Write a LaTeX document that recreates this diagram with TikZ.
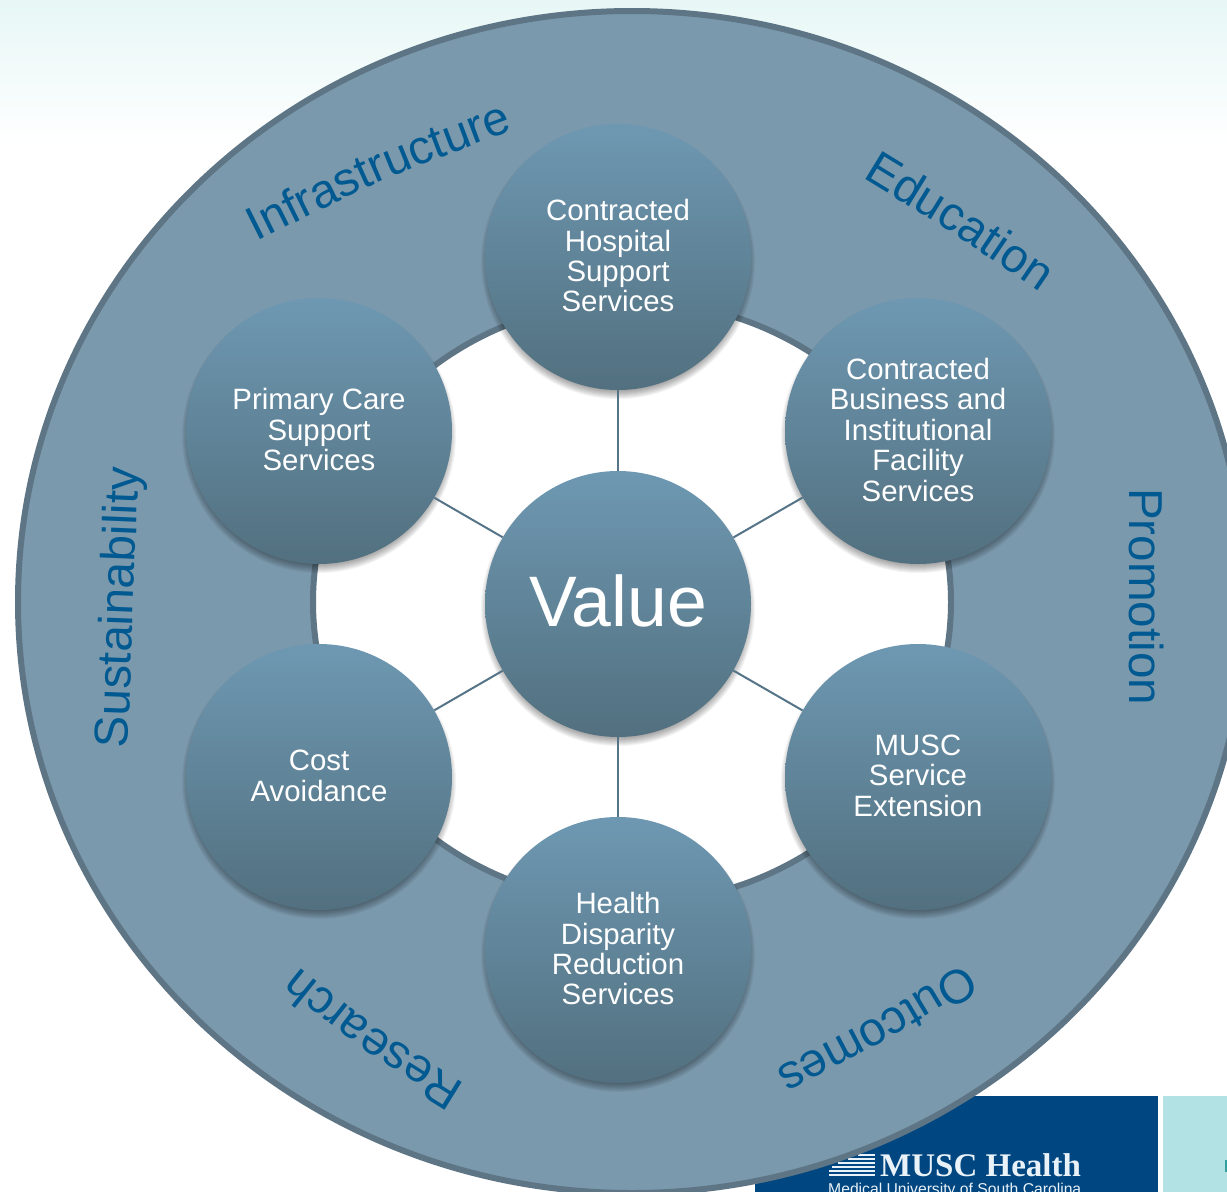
\documentclass[tikz,border=0pt]{standalone}
\usepackage{fontspec}
\setmainfont{Liberation Sans}
\newfontfamily\serifname{Liberation Serif}
\usetikzlibrary{decorations.text}
\definecolor{ringfill}{HTML}{7B99AD}
\definecolor{ringline}{HTML}{5E7585}
\definecolor{bubtop}{HTML}{6E98B2}
\definecolor{bubbot}{HTML}{52707F}
\definecolor{spoke}{HTML}{567488}
\definecolor{lab}{HTML}{005A91}
\definecolor{navy}{HTML}{004680}
\definecolor{paleteal}{HTML}{B2E2E4}
\definecolor{bgtop}{HTML}{E0F5F3}
\definecolor{logotext}{HTML}{E8F2F8}
\newcommand{\labfont}{\fontsize{47.6}{47.6}\selectfont}
\tikzset{
  x=1pt,y=-1pt,
  bub/.style={circle,minimum size=266pt,inner sep=0pt,top color=bubtop,bottom color=bubbot,
    text=white,align=center,font=\fontsize{29.4}{30.4}\selectfont,
    execute at end node={\rule[-2.6pt]{0pt}{2.6pt}}},
  bigbub/.style={bub,font=\fontsize{71.5}{71.5}\selectfont,
    execute at end node={\rule[-6pt]{0pt}{6pt}}},
  softshadow/.style={fill=black,fill opacity=0.045,draw=none},
  spokeline/.style={draw=spoke,line width=2pt},
  curved/.style={postaction={decorate,decoration={text along path,text align={center},
    text={|\labfont\color{lab}|#1}}}}
}
\begin{document}
\begin{tikzpicture}
\useasboundingbox (0,0) rectangle (1227,1192);
\clip (0,0) rectangle (1227,1192);
\fill[white] (0,0) rectangle (1227,1192);
\shade[top color=bgtop,bottom color=white,shading angle=0] (0,-40) rectangle (1227,145);
% logo
\fill[navy] (755,1096) rectangle (1158,1192);
\fill[paleteal] (1163,1096) rectangle (1227,1192);
\fill[teal!70!paleteal] (1225,1160) rectangle (1227,1172);
\foreach \yy/\xl in {1155/858,1159/848,1163/838,1167/832,1171/829,1175/829}
  \draw[logotext,line width=2.4pt] (\xl,\yy) -- (875,\yy);
\node[anchor=base west,inner sep=0pt,text=logotext,font=\serifname\bfseries\fontsize{33}{33}\selectfont] (brand) at (880,1176) {MUSC Health};
\node[anchor=base west,inner sep=0pt,text=logotext,font=\fontsize{15.7}{15.7}\selectfont] (brandsub) at (828,1194) {Medical University of South Carolina};
% ring
\draw[fill=ringfill,draw=ringline,line width=6pt,even odd rule]
  (632,602) ellipse [x radius=614,y radius=591]
  (632,602) ellipse [x radius=319,y radius=301];
% ring labels
\path[curved=Infrastructure] (256,242) .. controls (380,180) .. (514,130);
\path[curved=Education] (863,178) .. controls (953,233) .. (1039,292);
\path[curved=Promotion] (1129,490) .. controls (1129,596) .. (1129,703);
\path[curved=Outcomes] (964,964) .. controls (873,1019) .. (776,1069);
\path[curved=Research] (462,1082) .. controls (378,1030) .. (302,969);
\path[curved=Sustainability] (128,748) .. controls (133,608) .. (139,468);
% soft shadows under the bubbles
\foreach \cx/\cy in {618/257,918/431,918/777,618/950,319/777,319/431,618/604}
  \foreach \rr in {129,130,...,137}
    \fill[softshadow] (\cx,\cy+5) circle [radius=\rr];
% bubbles
\node[bub] (top) at (618,257) {Contracted\\Hospital\\Support\\Services};
\node[bub] (ur) at (918,431) {Contracted\\Business and\\Institutional\\Facility\\Services};
\node[bub] (lr) at (918,777) {MUSC\\Service\\Extension};
\node[bub] (bot) at (618,950) {Health\\Disparity\\Reduction\\Services};
\node[bub] (ll) at (319,777) {Cost\\Avoidance};
\node[bub] (ul) at (319,431) {Primary Care\\Support\\Services};
\node[bigbub] (val) at (618,604) {Value};
\foreach \n in {top,ur,lr,bot,ll,ul}
  \draw[spokeline] (val) -- (\n);
\end{tikzpicture}
\end{document}
